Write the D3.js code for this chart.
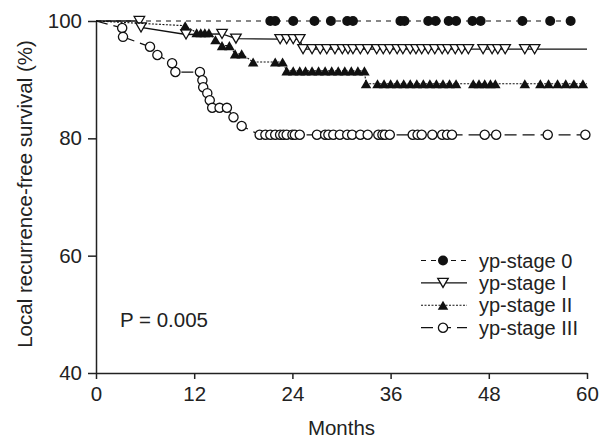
<!DOCTYPE html>
<html>
<head>
<meta charset="utf-8">
<script src="https://cdn.jsdelivr.net/npm/d3@7"></script>
<style>
  body { margin: 0; background: #fff; }
  svg { display: block; font-family: "Liberation Sans", Arial, sans-serif; }
</style>
</head>
<body>
<div id="chart"></div>
<script>
// ---------- data (months, survival %) ----------
const xTicks = [0, 12, 24, 36, 48, 60];
const yTicks = [40, 60, 80, 100];
const seriesNames = ['yp-stage 0', 'yp-stage I', 'yp-stage II', 'yp-stage III'];

const stage0Months = [21.3, 21.9, 24.1, 26.7, 28.7, 30.7, 31.4, 37.2, 37.7, 40.6, 41.5,
    43.1, 44.0, 46.0, 47.0, 52.1, 55.5, 58.0];
const stage0Surv = stage0Months.map(() => 100);

const stage1Months = [5.3, 5.5, 11.0, 15.4, 17.1, 22.5, 23.3, 24.1, 24.9,
    25.3, 26.4, 27.4, 28.2, 29.2, 30.1, 30.8, 31.4, 32.3, 33.2, 34.3, 35.1, 35.9, 36.8,
    37.5, 38.4, 39.1, 39.8, 40.6, 41.4, 42.3, 43.0, 43.9, 44.7, 45.5, 47.3, 48.4, 49.1,
    50.0, 52.4, 53.6];
const stage1Surv = [100, 98.9, 97.7, 97.8, 97.0, 96.9, 96.9, 96.9, 96.9,
    95.2, 95.2, 95.2, 95.2, 95.2, 95.2, 95.2, 95.2, 95.2, 95.2, 95.2, 95.2, 95.2, 95.2,
    95.2, 95.2, 95.2, 95.2, 95.2, 95.2, 95.2, 95.2, 95.2, 95.2, 95.2, 95.2, 95.2, 95.2,
    95.2, 95.2, 95.2];

const stage2Months = [10.9, 12.3, 12.8, 13.3, 13.8, 14.6, 15.4, 16.3, 17.0, 17.8, 19.2,
    21.9, 22.8, 23.3, 24.1, 24.9, 25.6, 26.4, 27.2, 28.0, 28.8, 29.6, 30.4, 31.2, 32.0,
    32.8, 33.0, 34.4, 35.2, 36.0, 36.8, 37.6, 38.4, 39.2, 40.0, 40.8, 41.6, 42.4, 43.2,
    44.0, 46.1, 46.8, 47.5, 48.2, 48.8, 52.4, 54.3, 55.3, 56.4, 57.4, 58.4, 59.5];
const stage2Surv = [99.2, 98.0, 98.0, 98.0, 98.0, 96.8, 95.8, 95.8, 94.4, 94.4, 93.0,
    93.0, 93.0, 91.5, 91.5, 91.5, 91.5, 91.5, 91.5, 91.5, 91.5, 91.5, 91.5, 91.5, 91.5,
    91.5, 89.3, 89.3, 89.3, 89.3, 89.3, 89.3, 89.3, 89.3, 89.3, 89.3, 89.3, 89.3, 89.3,
    89.3, 89.3, 89.3, 89.3, 89.3, 89.3, 89.3, 89.3, 89.3, 89.3, 89.3, 89.3, 89.3];

const stage3Months = [3.2, 3.3, 6.6, 7.5, 9.3, 9.7, 12.7, 13.0, 13.1, 13.6, 13.9, 14.2,
    15.1, 16.0, 16.8, 17.8, 20.0, 20.7, 21.3, 21.9, 22.5, 22.9, 23.3, 24.0, 24.3, 24.9,
    27.0, 28.0, 28.4, 29.0, 29.8, 30.7, 31.3, 32.3, 33.2, 34.5, 35.0, 35.3, 35.9, 38.7,
    39.3, 39.8, 41.1, 42.3, 42.9, 43.5, 47.5, 48.9, 55.2, 59.8];
const stage3Surv = [98.8, 97.3, 95.6, 94.2, 92.8, 91.3, 91.3, 89.9, 88.7, 87.7, 86.5, 85.2,
    85.2, 85.2, 83.6, 82.1, 80.6, 80.6, 80.6, 80.6, 80.6, 80.6, 80.6, 80.6, 80.6, 80.6,
    80.6, 80.6, 80.6, 80.6, 80.6, 80.6, 80.6, 80.6, 80.6, 80.6, 80.6, 80.6, 80.6, 80.6,
    80.6, 80.6, 80.6, 80.6, 80.6, 80.6, 80.6, 80.6, 80.6, 80.6];

// month where each curve stops
const curveEnds = [58.0, 60, 60, 60];

// ---------- drawing ----------
const width = 604, height = 439;
const svg = d3.select('#chart').append('svg')
    .attr('width', width)
    .attr('height', height);

const x = d3.scaleLinear().domain([0, 60]).range([96, 587]);
const y = d3.scaleLinear().domain([40, 100]).range([373, 21]);

const fontSize = '20.5px';

// axes
const xAxis = svg.append('g')
    .attr('transform', `translate(0,${y(40)})`)
    .call(d3.axisBottom(x).tickValues(xTicks).tickSize(6).tickPadding(7).tickSizeOuter(0));
const yAxis = svg.append('g')
    .attr('transform', `translate(${x(0)},0)`)
    .call(d3.axisLeft(y).tickValues(yTicks).tickSize(8).tickPadding(6).tickSizeOuter(0));

[xAxis, yAxis].forEach(g => {
    g.select('.domain').attr('stroke', '#222').attr('stroke-width', 1.5);
    g.selectAll('.tick line').attr('stroke', '#222').attr('stroke-width', 1.5);
    g.selectAll('.tick text')
        .attr('fill', '#222')
        .style('font-size', fontSize)
        .style('font-family', '"Liberation Sans", Arial, sans-serif');
});

svg.append('text')
    .attr('x', (x(0) + x(60)) / 2)
    .attr('y', 435)
    .attr('text-anchor', 'middle')
    .style('font-size', fontSize)
    .attr('fill', '#222')
    .text('Months');

svg.append('text')
    .attr('transform', `translate(32,${(y(40) + y(100)) / 2 - 3}) rotate(-90)`)
    .attr('text-anchor', 'middle')
    .style('font-size', fontSize)
    .attr('fill', '#222')
    .text('Local recurrence-free survival (%)');

svg.append('text')
    .attr('x', 120)
    .attr('y', 327)
    .style('font-size', fontSize)
    .attr('fill', '#222')
    .text('P = 0.005');

// series styles
const dashes = ['5,5', null, '2,1.5', '12,6'];
const lineWidths = [1.2, 1.3, 1.1, 1.2];

const triSide = 10.5;
const triH = triSide * Math.sqrt(3) / 2;
const triDown = `M${-triSide / 2},${-triH / 2}L${triSide / 2},${-triH / 2}L0,${triH / 2}Z`;
const triUp = `M${-triSide / 2},${triH / 2}L${triSide / 2},${triH / 2}L0,${-triH / 2}Z`;

function drawMarker(g, kind) {
    if (kind === 0) {
        g.append('circle').attr('r', 5).attr('fill', '#111');
    } else if (kind === 1) {
        g.append('path').attr('d', triDown).attr('fill', '#fff')
            .attr('stroke', '#111').attr('stroke-width', 1.3);
    } else if (kind === 2) {
        g.append('path').attr('d', triUp).attr('fill', '#111');
    } else {
        g.append('circle').attr('r', 4.6).attr('fill', '#fff')
            .attr('stroke', '#111').attr('stroke-width', 1.3);
    }
}

const allMonths = [stage0Months, stage1Months, stage2Months, stage3Months];
const allSurv = [stage0Surv, stage1Surv, stage2Surv, stage3Surv];

const line = d3.line().x(d => x(d[0])).y(d => y(d[1]));

allMonths.forEach((months, i) => {
    const pts = months.map((m, j) => [m, allSurv[i][j]]);
    const linePts = [[0, 100], ...pts];
    const last = pts[pts.length - 1];
    if (curveEnds[i] > last[0]) linePts.push([curveEnds[i], last[1]]);

    svg.append('path')
        .datum(linePts)
        .attr('d', line)
        .attr('fill', 'none')
        .attr('stroke', '#111')
        .attr('stroke-width', lineWidths[i])
        .attr('stroke-dasharray', dashes[i]);

    svg.append('g').selectAll('g')
        .data(pts)
        .enter()
        .append('g')
        .attr('transform', d => `translate(${x(d[0])},${y(d[1])})`)
        .each(function () { drawMarker(d3.select(this), i); });
});

// legend (rows spaced so the labels do not collide)
const legendRows = [260.5, 282.9, 305.3, 327.7];
seriesNames.forEach((name, i) => {
    const g = svg.append('g').attr('transform', `translate(0,${legendRows[i]})`);
    g.append('line')
        .attr('x1', 421).attr('x2', 467)
        .attr('stroke', '#111')
        .attr('stroke-width', lineWidths[i])
        .attr('stroke-dasharray', dashes[i]);
    const m = g.append('g').attr('transform', 'translate(443,0)');
    drawMarker(m, i);
    g.append('text')
        .attr('x', 479)
        .attr('y', 7)
        .style('font-size', '20px')
        .attr('fill', '#222')
        .text(name);
});
</script>
</body>
</html>
